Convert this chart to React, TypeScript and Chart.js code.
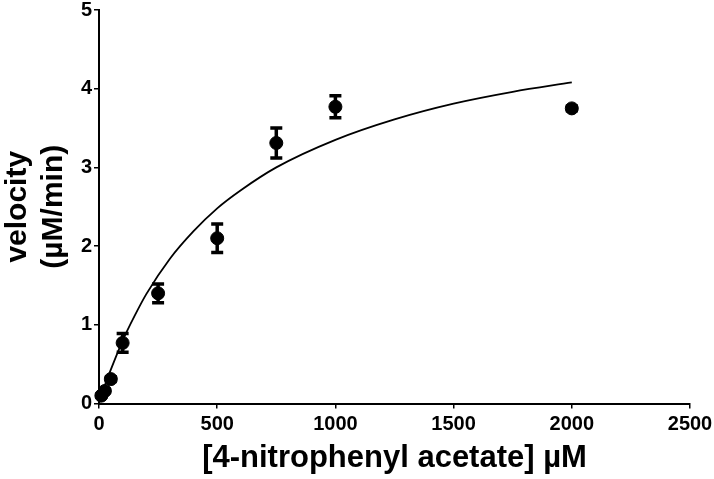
import React, { useEffect, useRef } from "react";
import { Chart, registerables } from "chart.js";

Chart.register(...registerables);

// Measured data (substrate concentration in µM, velocity in µM/min)
const concentrations = [10, 25, 50, 100, 250, 500, 750, 1000, 2000];
const velocities = [0.1, 0.16, 0.31, 0.77, 1.4, 2.1, 3.31, 3.77, 3.75];
const errors = [0.02, 0.02, 0.03, 0.12, 0.12, 0.18, 0.19, 0.14, 0.03];

// Fitted curve
const fitX = [0, 25, 50, 100, 150, 200, 300, 400, 500, 600, 750, 1000, 1250, 1500, 1750, 2000];
const fitY = [0, 0.23, 0.43, 0.8, 1.11, 1.39, 1.84, 2.19, 2.48, 2.71, 3.0, 3.35, 3.61, 3.81, 3.96, 4.08];

const xLabel = "[4-nitrophenyl acetate] µM";
const yLabel = ["velocity", "(µM/min)"];
const xRange = [0, 2500];
const yRange = [0, 5];
const xStep = 500;
const yStep = 1;

const FONT = "'Liberation Sans', Arial, sans-serif";

const errorBarPlugin = {
  id: "errorBars",
  afterDatasetsDraw(chart: any) {
    const { ctx } = chart;
    const x = chart.scales.x;
    const y = chart.scales.y;
    ctx.save();
    ctx.strokeStyle = "#000";
    ctx.lineWidth = 3.5;
    concentrations.forEach((c, i) => {
      const px = x.getPixelForValue(c);
      const top = y.getPixelForValue(velocities[i] + errors[i]);
      const bot = y.getPixelForValue(velocities[i] - errors[i]);
      ctx.beginPath();
      ctx.moveTo(px, top);
      ctx.lineTo(px, bot);
      ctx.moveTo(px - 6, top);
      ctx.lineTo(px + 6, top);
      ctx.moveTo(px - 6, bot);
      ctx.lineTo(px + 6, bot);
      ctx.stroke();
    });
    ctx.restore();
  },
};

export default function App() {
  const canvasRef = useRef<HTMLCanvasElement | null>(null);

  useEffect(() => {
    document.body.style.margin = "0";
    const canvas = canvasRef.current;
    if (!canvas) return;
    const chart = new Chart(canvas, {
      type: "scatter",
      data: {
        datasets: [
          {
            label: "data",
            data: concentrations.map((c, i) => ({ x: c, y: velocities[i] })),
            backgroundColor: "#000",
            borderColor: "#000",
            pointRadius: 6.5,
            pointHoverRadius: 6.5,
            showLine: false,
            clip: false as any,
          },
          {
            label: "fit",
            data: fitX.map((c, i) => ({ x: c, y: fitY[i] })),
            borderColor: "#000",
            borderWidth: 1.8,
            pointRadius: 0,
            showLine: true,
            cubicInterpolationMode: "monotone",
            clip: false as any,
          } as any,
        ],
      },
      options: {
        responsive: false,
        animation: false,
        events: [],
        layout: { padding: { top: 10, right: 24, bottom: 0, left: 0 } },
        plugins: {
          legend: { display: false },
          tooltip: { enabled: false },
        },
        scales: {
          x: {
            type: "linear",
            min: xRange[0],
            max: xRange[1],
            afterFit: (s: any) => {
              s.height = 75.5;
              s.paddingLeft = 0;
              s.paddingRight = 0;
            },
            ticks: {
              stepSize: xStep,
              color: "#000",
              padding: 4,
              maxRotation: 0,
              callback: (v: any) => String(v),
              font: { family: FONT, size: 20, weight: "bold" },
            },
            grid: {
              drawOnChartArea: false,
              drawTicks: true,
              tickLength: 5,
              color: "#000",
              lineWidth: 1.5,
            },
            border: { display: true, color: "#000", width: 2 },
            title: {
              display: true,
              text: xLabel,
              color: "#000",
              padding: { top: 0, bottom: 2 },
              font: { family: FONT, size: 31, weight: "bold", lineHeight: 1.2 },
            },
          },
          y: {
            type: "linear",
            min: yRange[0],
            max: yRange[1],
            afterFit: (s: any) => {
              s.width = 99;
              s.paddingTop = 0;
              s.paddingBottom = 0;
            },
            ticks: {
              stepSize: yStep,
              color: "#000",
              padding: 2,
              callback: (v: any) => String(v),
              font: { family: FONT, size: 20, weight: "bold" },
            },
            grid: {
              drawOnChartArea: false,
              drawTicks: true,
              tickLength: 5,
              color: "#000",
              lineWidth: 1.5,
            },
            border: { display: true, color: "#000", width: 2 },
            title: {
              display: true,
              text: yLabel,
              color: "#000",
              padding: { top: 0, bottom: 0 },
              font: { family: FONT, size: 30, weight: "bold", lineHeight: 1.2 },
            },
          },
        },
      },
      plugins: [errorBarPlugin],
    });
    return () => chart.destroy();
  }, []);

  return (
    <div style={{ width: 714, height: 479 }}>
      <canvas ref={canvasRef} width={714} height={479} style={{ display: "block" }} />
    </div>
  );
}
